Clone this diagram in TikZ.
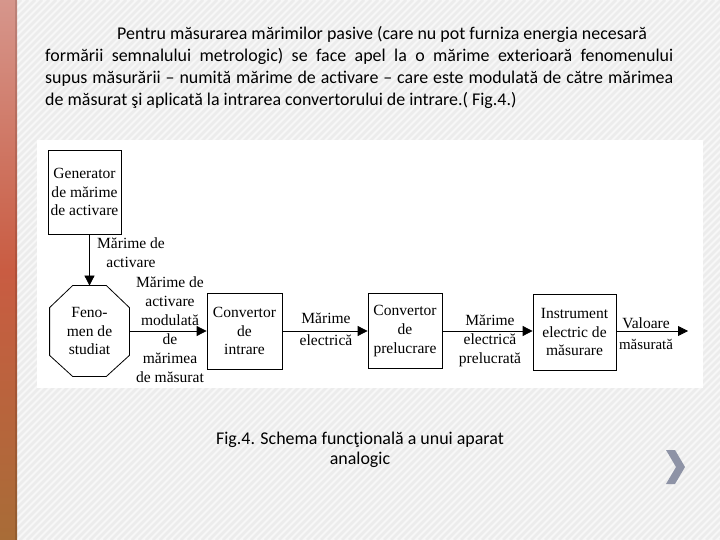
\documentclass[tikz,border=0pt]{standalone}
\usepackage{fontspec}
\setmainfont{Carlito}
\newfontfamily\diagfont{Liberation Serif}
\usepackage{tikz}
\usetikzlibrary{arrows.meta, calc}
\definecolor{bartop}{RGB}{214,150,140}
\definecolor{barmid}{RGB}{201,92,66}
\definecolor{barbot}{RGB}{168,108,55}
\definecolor{slidebg}{RGB}{247,247,247}
\definecolor{stripe}{RGB}{236,236,236}
\definecolor{chevron}{RGB}{142,147,166}
\tikzset{
  slidetext/.style={font=\fontsize{18}{22}\selectfont, inner sep=0pt},
  diagtext/.style={align=center, font=\diagfont\fontsize{15.6}{19}\selectfont, inner sep=0pt},
  blockbox/.style={rectangle, draw=black, line width=0.8bp, align=center, inner sep=0pt, font=\diagfont\fontsize{15.6}{19}\selectfont},
  fenobox/.style={blockbox, draw=none},
  arrow/.style={-{Triangle[length=10bp,width=10bp]}, line width=0.8bp}
}

\begin{document}
\begin{tikzpicture}[x=1bp, y=-1bp]
  \useasboundingbox (0,0) rectangle (720,540);
  \fill[slidebg] (0,0) rectangle (720,540);
  \begin{scope}
    \clip (17,0) rectangle (720,540);
    \foreach \s in {-540,-533,...,720}
      \draw[stripe, line width=2.5bp] (\s,540) -- (\s+540,0);
  \end{scope}
  \shade[top color=bartop, bottom color=barbot, middle color=barmid] (0,0) rectangle (17,540);
  \fill[black, opacity=0.12] (15,0) rectangle (17,540);

  \node[slidetext, anchor=base west] (line1) at (117,40) {Pentru măsurarea mărimilor pasive (care nu pot furniza energia necesară};
  \node[slidetext, anchor=base west] (line2) at (45,62) {\makebox[628bp][s]{formării semnalului metrologic) se face apel la o mărime exterioară fenomenului}};
  \node[slidetext, anchor=base west] (line3) at (45,84) {\makebox[628bp][s]{supus măsurării – numită mărime de activare – care este modulată de către mărimea}};
  \node[slidetext, anchor=base west] (line4) at (45,106) {de măsurat şi aplicată la intrarea convertorului de intrare.( Fig.4.)};

  \fill[white] (37,140) rectangle (703,388);

  \node[blockbox, minimum width=73bp, minimum height=84bp] (gen) at (84.5,192) {Generator\\de mărime\\de activare};
  \node[fenobox, minimum width=79bp, minimum height=90bp] (fen) at (89.5,331) {Feno-\\men de\\studiat};
  \draw[line width=0.8bp] ($(fen.north west)+(23,0)$) -- ($(fen.north east)+(-23,0)$) -- ($(fen.north east)+(0,22)$)
    -- ($(fen.south east)+(0,-21)$) -- ($(fen.south east)+(-23,0)$) -- ($(fen.south west)+(23,0)$)
    -- ($(fen.south west)+(0,-21)$) -- ($(fen.north west)+(0,22)$) -- cycle;
  \node[blockbox, minimum width=75bp, minimum height=76bp] (cin) at (244.5,331) {Convertor\\de\\intrare};
  \node[blockbox, minimum width=74bp, minimum height=75bp] (cpr) at (405,331) {Convertor\\de\\prelucrare};
  \node[blockbox, minimum width=83bp, minimum height=76bp] (ins) at (574.5,332) {Instrument\\electric de\\măsurare};
  \coordinate (out) at (688,331);

  \draw[arrow] (gen.south -| fen.north) -- (fen.north);
  \draw[arrow] (fen.east) -- (cin.west);
  \draw[arrow] (cin.east) -- (cpr.west);
  \draw[arrow] (cpr.east) -- (ins.west |- cpr.east);
  \draw[arrow] (ins.east |- out) -- (out);

  \node[diagtext] (actlbl) at (131,253) {Mărime de\\activare};
  \node[diagtext] (modlbl) at (170,329.5) {Mărime de\\activare\\modulată\\de\\mărimea\\de măsurat};
  \node[diagtext, font=\diagfont\fontsize{15.6}{22}\selectfont] (elelbl) at (326,329) {Mărime\\electrică};
  \node[diagtext] (prllbl) at (490,341) {Mărime\\electrică\\prelucrată};
  \node[diagtext, font=\diagfont\fontsize{15.6}{21}\selectfont] (vallbl) at (646,334) {Valoare\\{\fontsize{15}{21}\selectfont măsurată}};

  \node[slidetext, align=center, font=\fontsize{18}{20}\selectfont] (caption) at (360,450) {Fig.4. Schema funcţională a unui aparat\\analogic};

  \fill[chevron] (666,450) -- (675,450) -- (685,467) -- (675,484) -- (666,484) -- (676,467) -- cycle;
\end{tikzpicture}
\end{document}
